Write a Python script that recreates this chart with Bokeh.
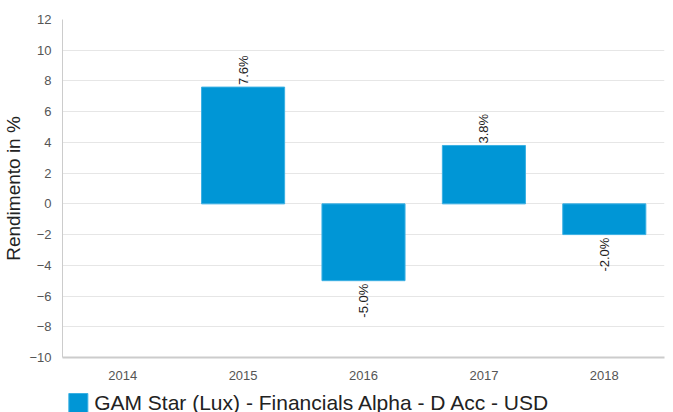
import math
from bokeh.plotting import figure
from bokeh.layouts import column
from bokeh.models import ColumnDataSource, FactorRange, FixedTicker, Range1d
from bokeh.core.properties import value
from bokeh.embed import file_html
from bokeh.resources import INLINE

years = ["2014", "2015", "2016", "2017", "2018"]
returns = [float("nan"), 7.6, -5.0, 3.8, -2.0]
labels = ["", "7.6%", "-5.0%", "3.8%", "-2.0%"]
series_name = "GAM Star (Lux) - Financials Alpha - D Acc - USD"
y_ticks = [-10, -8, -6, -4, -2, 0, 2, 4, 6, 8, 10, 12]

FONT = "Liberation Sans"
BAR = "#0096D6"
EDGE = "#3BB0E3"

p = figure(width=665, height=382, x_range=FactorRange(*years, range_padding=0),
           y_range=Range1d(-10, 12), output_backend="svg", toolbar_location=None,
           min_border_left=57, min_border_top=19, min_border_right=1, min_border_bottom=23)
p.outline_line_color = None

src = ColumnDataSource(dict(x=years, top=returns))
p.vbar(x="x", top="top", bottom=0, width=0.69, source=src,
       fill_color=BAR, line_color=EDGE, line_width=1)

pos = [(y, v, l) for y, v, l in zip(years, returns, labels) if v == v and v >= 0]
neg = [(y, v, l) for y, v, l in zip(years, returns, labels) if v == v and v < 0]
p.text(x=[a for a, _, _ in pos], y=[b for _, b, _ in pos], text=[c for _, _, c in pos],
       angle=math.pi / 2, text_align="left", text_baseline="middle", y_offset=-2,
       text_font=value(FONT), text_font_size="13px", text_color="#222222")
p.text(x=[a for a, _, _ in neg], y=[b for _, b, _ in neg], text=[c for _, _, c in neg],
       angle=math.pi / 2, text_align="right", text_baseline="middle", y_offset=3,
       text_font=value(FONT), text_font_size="13px", text_color="#222222")

p.yaxis.ticker = FixedTicker(ticks=y_ticks)
p.yaxis.axis_label = "Rendimento in %"
p.yaxis.axis_label_text_font = FONT
p.yaxis.axis_label_text_font_size = "19px"
p.yaxis.axis_label_text_font_style = "normal"
p.yaxis.axis_label_text_color = "#222222"
p.yaxis.axis_label_standoff = 2
for ax in (p.xaxis, p.yaxis):
    ax.major_label_text_font = FONT
    ax.major_label_text_font_size = "13px"
    ax.major_label_text_color = "#555555"
    ax.major_tick_line_color = None
    ax.minor_tick_line_color = None
    ax.axis_line_color = "#CCCCCC"
p.yaxis.major_label_standoff = 5
p.xaxis.major_label_standoff = 7
p.xaxis.axis_line_width = 2
p.xgrid.grid_line_color = None
p.ygrid.grid_line_color = "#E6E6E6"

# legend strip below the chart (pixel-unit canvas: swatch + series name)
p2 = figure(width=665, height=30, x_range=Range1d(0, 665), y_range=Range1d(0, 30),
            output_backend="svg", toolbar_location=None,
            x_axis_location=None, y_axis_location=None,
            min_border_left=0, min_border_right=0, min_border_top=0, min_border_bottom=0)
p2.grid.visible = False
p2.outline_line_color = None
p2.rect(x=[17.5], y=[9.5], width=21, height=19, fill_color=BAR, line_color=EDGE)
p2.text(x=[35], y=[10], text=[series_name], text_align="left", text_baseline="middle",
        text_font=value(FONT), text_font_size="21px", text_color="#222222")

open("out.html", "w").write(file_html(column(p, p2, spacing=0), INLINE))
